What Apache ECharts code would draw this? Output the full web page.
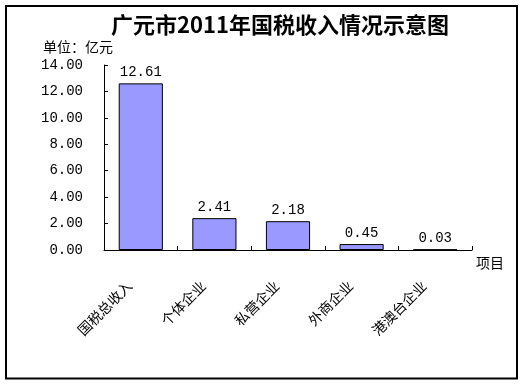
<!DOCTYPE html>
<html>
<head>
<meta charset="utf-8">
<script src="https://cdn.jsdelivr.net/npm/echarts@6/dist/echarts.min.js"></script>
<style>html,body{margin:0;padding:0;background:#fff;}#main{width:524px;height:385px;}</style>
</head>
<body>
<div id="main"></div>
<script>
var titleText = '广元市2011年国税收入情况示意图';
var unitText = '单位：亿元';
var xAxisName = '项目';
var categories = ['国税总收入', '个体企业', '私营企业', '外商企业', '港澳台企业'];
var values = [12.61, 2.41, 2.18, 0.45, 0.03];
var yMin = 0, yMax = 14, yInterval = 2;

var cjk = '"Noto Sans CJK SC", sans-serif';
var num = '"Liberation Mono", monospace';

var chart = echarts.init(document.getElementById('main'), null, {renderer: 'canvas'});
chart.setOption({
  animation: false,
  backgroundColor: '#ffffff',
  title: {
    text: titleText,
    left: 106,
    top: 9,
    textStyle: {fontFamily: cjk, fontSize: 22, fontWeight: 'bold', color: '#000'}
  },
  graphic: [{
    type: 'rect',
    shape: {x: 6, y: 6, width: 511, height: 372.5},
    style: {fill: 'none', stroke: '#000', lineWidth: 2},
    silent: true
  }],
  grid: {left: 104, right: 52, top: 65, bottom: 135, containLabel: false},
  xAxis: {
    type: 'category',
    data: categories,
    name: xAxisName,
    nameLocation: 'end',
    nameGap: 4,
    nameTextStyle: {fontFamily: cjk, fontSize: 14, color: '#000', verticalAlign: 'top', padding: [6, 0, 0, 0]},
    axisLine: {lineStyle: {color: '#000', width: 1}},
    axisTick: {show: true, inside: true, length: 4, lineStyle: {color: '#000'}},
    axisLabel: {
      rotate: 45, interval: 0, margin: 22,
      fontFamily: cjk, fontSize: 14, color: '#000',
      padding: [0, 16, 0, 0]
    }
  },
  yAxis: {
    type: 'value',
    min: yMin, max: yMax, interval: yInterval,
    name: unitText,
    nameLocation: 'end',
    nameGap: 11,
    nameTextStyle: {fontFamily: cjk, fontSize: 14, color: '#000', align: 'center', padding: [0, 52, 0, 0]},
    axisLine: {show: true, lineStyle: {color: '#000', width: 1}},
    axisTick: {show: true, inside: true, length: 4, lineStyle: {color: '#000'}},
    splitLine: {show: false},
    axisLabel: {
      margin: 21, fontFamily: num, fontSize: 14, color: '#000',
      formatter: function (v) { return v.toFixed(2); }
    }
  },
  series: [{
    type: 'bar',
    data: values,
    barWidth: '60%',
    itemStyle: {color: '#9999ff', borderColor: '#000', borderWidth: 1},
    label: {
      show: true, position: 'top', distance: 4,
      fontFamily: num, fontSize: 14, color: '#000',
      formatter: function (p) { return p.value.toFixed(2); }
    }
  }]
});
</script>
</body>
</html>
